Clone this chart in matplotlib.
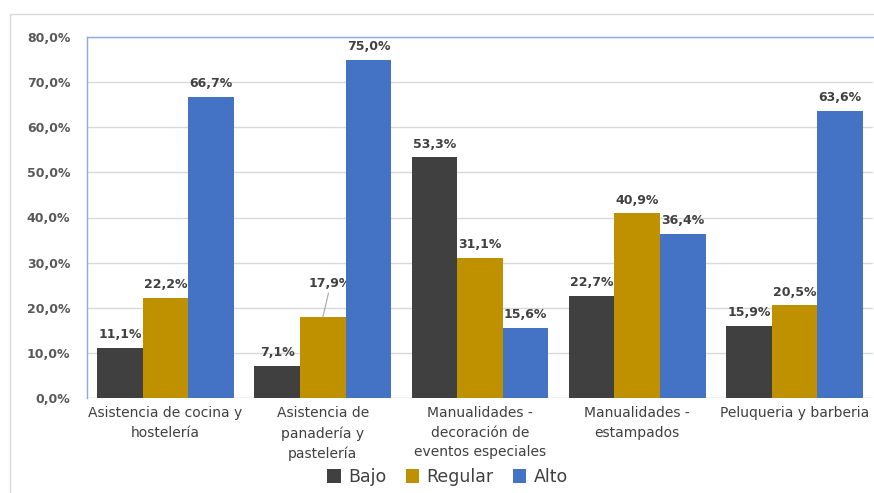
import matplotlib
matplotlib.use("Agg")
import matplotlib.pyplot as plt
from matplotlib import font_manager
from matplotlib.patches import Rectangle
import numpy as np

categories = ["Asistencia de cocina y\nhostelería", "Asistencia de\npanadería y\npastelería",
              "Manualidades -\ndecoración de\neventos especiales", "Manualidades -\nestampados",
              "Peluqueria y barberia"]
series_names = ["Bajo", "Regular", "Alto"]
bajo = [11.1, 7.1, 53.3, 22.7, 15.9]
regular = [22.2, 17.9, 31.1, 40.9, 20.5]
alto = [66.7, 75.0, 15.6, 36.4, 63.6]
colors = ["#404040", "#BF9000", "#4472C4"]
yticks = [0, 10, 20, 30, 40, 50, 60, 70, 80]

names = {f.name for f in font_manager.fontManager.ttflist}
narrow = "Liberation Sans Narrow" if "Liberation Sans Narrow" in names else "DejaVu Sans"

fig = plt.figure(figsize=(8.74, 4.93), dpi=100)
fig.patches.append(Rectangle((10/874, -0.1), 1.2, 1 - 14/493 + 0.1, transform=fig.transFigure,
                             fill=False, edgecolor="#D9D9D9", linewidth=1))
ax = fig.add_axes([87/874, 1 - 398/493, (873 - 87)/874, (398 - 37)/493])

x = np.arange(len(categories))
w = 0.29
data = [bajo, regular, alto]
for i, (vals, c, nm) in enumerate(zip(data, colors, series_names)):
    pos = x + (i - 1) * w
    ax.bar(pos, vals, width=w, color=c, label=nm, zorder=3)
    for j, (p, v) in enumerate(zip(pos, vals)):
        lbl = f"{v:.1f}%".replace(".", ",")
        if i == 1 and j == 1:
            ax.annotate(lbl, xy=(p, v), xytext=(p + 0.05, v + 6), ha="center", va="bottom",
                        fontsize=9, fontweight="bold", color="#404040",
                        arrowprops=dict(arrowstyle="-", color="#A6A6A6", lw=0.8,
                                        shrinkA=0, shrinkB=0))
        else:
            ax.text(p, v + 1.5, lbl, ha="center", va="bottom", fontsize=9,
                    fontweight="bold", color="#404040")

ax.set_xlim(-0.5, len(categories) - 0.5)
ax.set_ylim(0, 80)
ax.set_yticks(yticks)
ax.set_yticklabels([f"{t:.1f}%".replace(".", ",") for t in yticks], fontsize=9,
                   fontweight="bold", color="#595959")
ax.set_xticks(x)
ax.set_xticklabels(categories, fontsize=10, color="#404040", family=narrow, linespacing=1.5)
ax.tick_params(axis="both", length=0)
ax.tick_params(axis="y", pad=12)
ax.tick_params(axis="x", pad=6)
ax.grid(axis="y", color="#D9D9D9", linewidth=1, zorder=0)
for s in ["right", "bottom"]:
    ax.spines[s].set_visible(False)
for s in ["top", "left"]:
    ax.spines[s].set_color("#8EA9DB")
    ax.spines[s].set_linewidth(1)
ax.axhline(0, color="#D9D9D9", linewidth=1, zorder=2)

handles, labels = ax.get_legend_handles_labels()
fig.legend(handles, labels, loc="center", bbox_to_anchor=(0.512, 1 - 477/493), ncol=3,
           frameon=False, handlelength=0.8, handleheight=0.8, handletextpad=0.4,
           columnspacing=1.1, prop={"family": narrow, "size": 12.5})
for t in fig.legends[0].get_texts():
    t.set_color("#404040")

fig.savefig("out.png", dpi=100)
